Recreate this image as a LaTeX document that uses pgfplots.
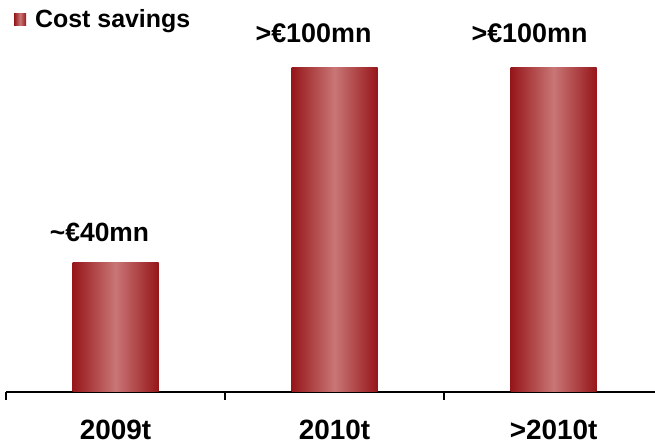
\documentclass[border=0pt]{standalone}
\usepackage{pgfplots}
\pgfplotsset{compat=1.18}
\usepackage{fontspec}
\setmainfont{Liberation Sans}

\definecolor{barEdge}{RGB}{150,22,26}
\definecolor{barMid}{RGB}{201,118,118}

\begin{document}
\begin{tikzpicture}[x=1bp,y=1bp]
\useasboundingbox (0,0) rectangle (655,445);
\begin{axis}[
  at={(6bp,53bp)}, anchor=south west,
  scale only axis, width=649bp, height=388.8bp,
  xmin=-0.5, xmax=2.463, ymin=0, ymax=120,
  clip=false,
  axis x line*=bottom, axis y line=none,
  x axis line style={-, black, line width=1.2bp},
  xtick={0,1,2},
  xticklabels={2009t,2010t,>2010t},
  major tick length=0pt,
  extra x ticks={-0.5,0.5,1.5},
  extra x tick labels={},
  extra x tick style={major tick length=8bp, tick align=outside,
    tick style={black, line width=1.2bp}},
  xticklabel style={font=\fontsize{28}{30}\selectfont\bfseries, yshift=-25bp},
  legend style={draw=none, fill=none, at={(0.0123,0.959)}, anchor=west,
    inner sep=0pt, font=\fontsize{25}{27}\selectfont\bfseries},
  legend cell align=left,
  legend image code/.code={%
    \path[left color=barEdge, right color=barEdge, middle color=barMid]
      (0bp,-6bp) rectangle (12bp,6bp);
    \path (0bp,0bp) -- (19bp,0bp);},
  shaded bar/.style={ybar, bar width=86bp, bar shift=0pt, draw=none, mark=none,
    left color=barEdge, right color=barEdge, middle color=barMid},
]
% one plot per bar so that each bar carries its own shading
\addplot[shaded bar] coordinates {(0,40)};
\addlegendentry{Cost savings}
\addplot[shaded bar, forget plot] coordinates {(1,100)};
\addplot[shaded bar, forget plot] coordinates {(2,100)};

\node[font=\fontsize{26.5}{28}\selectfont\bfseries] at (axis cs:-0.073,49.4) {\textasciitilde€40mn};
\node[font=\fontsize{27}{28}\selectfont\bfseries] at (axis cs:0.904,110.8) {>€100mn};
\node[font=\fontsize{27}{28}\selectfont\bfseries] at (axis cs:1.89,110.8) {>€100mn};
\end{axis}
\end{tikzpicture}
\end{document}
